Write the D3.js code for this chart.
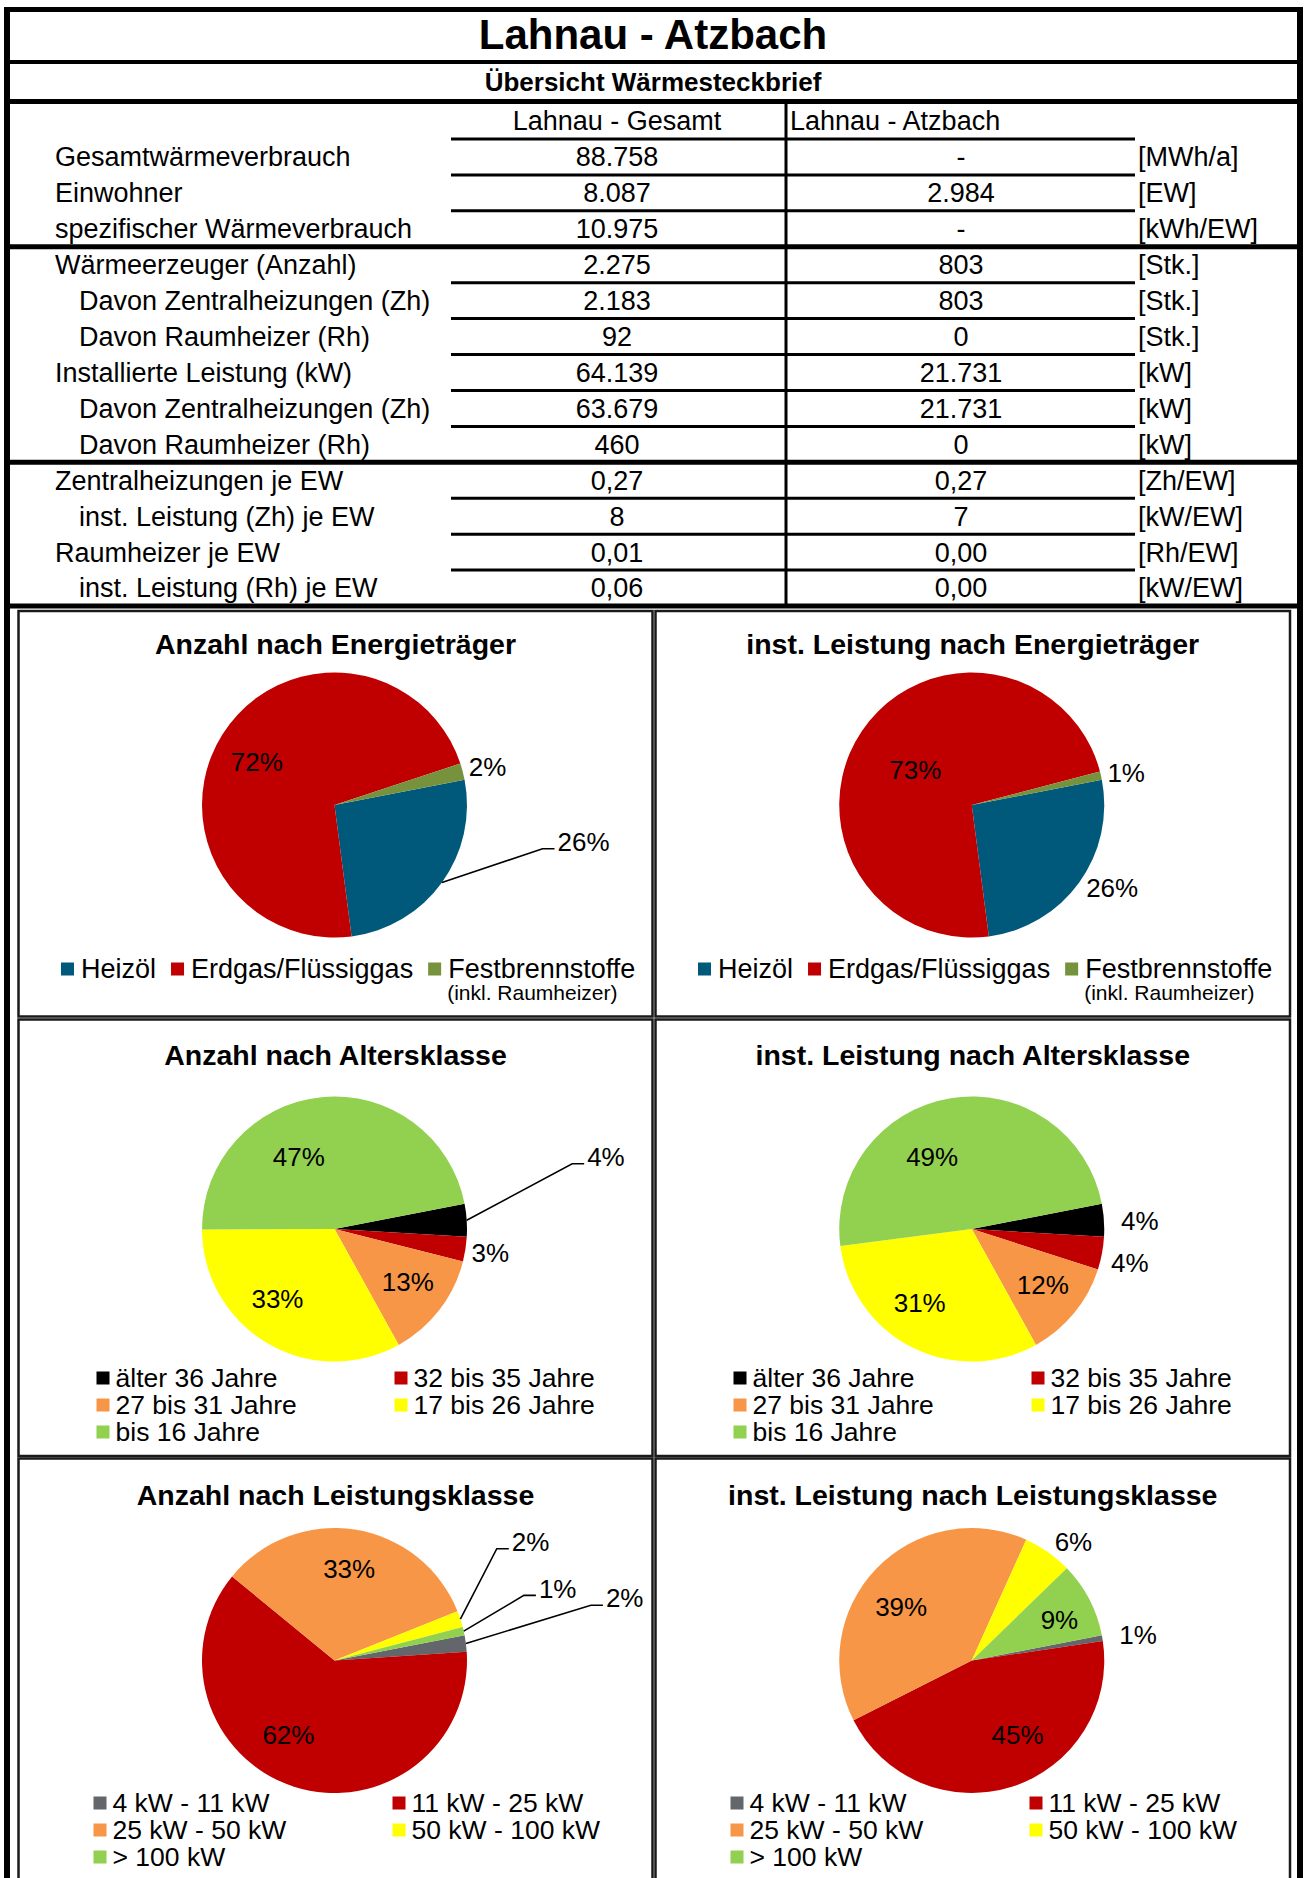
<!DOCTYPE html>
<html>
<head>
<meta charset="utf-8">
<script src="https://cdn.jsdelivr.net/npm/d3@7"></script>
<style>
  body { margin: 0; background: #fff; }
  svg { display: block; }
  text { font-family: "Liberation Sans", Arial, Helvetica, sans-serif; fill: #000; }
</style>
</head>
<body>
<svg width="1304" height="1878"></svg>
<script>

// Page texts
var pageTitle = 'Lahnau - Atzbach';
var subTitle = 'Übersicht Wärmesteckbrief';

// Table
var tableCols = ['Lahnau - Gesamt', 'Lahnau - Atzbach'];
var rowLabels = [
  'Gesamtwärmeverbrauch', 'Einwohner', 'spezifischer Wärmeverbrauch',
  'Wärmeerzeuger (Anzahl)', 'Davon Zentralheizungen (Zh)', 'Davon Raumheizer (Rh)',
  'Installierte Leistung (kW)', 'Davon Zentralheizungen (Zh)', 'Davon Raumheizer (Rh)',
  'Zentralheizungen je EW', 'inst. Leistung (Zh) je EW', 'Raumheizer je EW', 'inst. Leistung (Rh) je EW'
];
var rowIndent = [0, 0, 0, 0, 1, 1, 0, 1, 1, 0, 1, 0, 1];
var valGesamt = ['88.758', '8.087', '10.975', '2.275', '2.183', '92', '64.139', '63.679', '460', '0,27', '8', '0,01', '0,06'];
var valAtzbach = ['-', '2.984', '-', '803', '803', '0', '21.731', '21.731', '0', '0,27', '7', '0,00', '0,00'];
var units = ['[MWh/a]', '[EW]', '[kWh/EW]', '[Stk.]', '[Stk.]', '[Stk.]', '[kW]', '[kW]', '[kW]', '[Zh/EW]', '[kW/EW]', '[Rh/EW]', '[kW/EW]'];
var sectionStarts = [3, 9];

// Pie categories and shares (percent)
var energyCats = ['Heizöl', 'Erdgas/Flüssiggas', 'Festbrennstoffe'];
var energyNote = '(inkl. Raumheizer)';
var energyCount = [26, 72, 2];
var energyPower = [26, 73, 1];

var ageCats = ['älter 36 Jahre', '32 bis 35 Jahre', '27 bis 31 Jahre', '17 bis 26 Jahre', 'bis 16 Jahre'];
var ageCount = [4, 3, 13, 33, 47];
var agePower = [4, 4, 12, 31, 49];

var powerCats = ['4 kW - 11 kW', '11 kW - 25 kW', '25 kW - 50 kW', '50 kW - 100 kW', '> 100 kW'];
var powerCount = [2, 62, 33, 2, 1];
var powerPower = [0.7, 44.9, 39.2, 6.0, 9.2];

// Colours
var energyColor = d3.scaleOrdinal(energyCats, ['#00587A', '#C00000', '#76923C']);
var ageColor = d3.scaleOrdinal(ageCats, ['#000000', '#C00000', '#F79646', '#FFFF00', '#92D050']);
var powerColor = d3.scaleOrdinal(powerCats, ['#63666A', '#C00000', '#F79646', '#FFFF00', '#92D050']);

var svg = d3.select('svg');
var W = 1304, H = 1878;
var frameL = 7, frameR = 1300;

function hline(y, x0, x1, w) {
  svg.append('line').attr('x1', x0).attr('x2', x1).attr('y1', y).attr('y2', y)
    .attr('stroke', '#000').attr('stroke-width', w);
}

function label(g, x, y, str, size, anchor, bold) {
  return g.append('text')
    .attr('x', x).attr('y', y).attr('dy', '0.35em')
    .attr('font-size', size)
    .attr('text-anchor', anchor || 'start')
    .attr('font-weight', bold ? 'bold' : 'normal')
    .text(str);
}

// ---- Header + table ----
hline(9.5, 4, frameR + 3, 5);
hline(62, frameL, frameR, 4);
hline(101.5, frameL, frameR, 5);

label(svg, 653, 34, pageTitle, 42, 'middle', true);
label(svg, 653, 82, subTitle, 26, 'middle', true);

var colX = [617, 961];
var unitX = 1138;
label(svg, colX[0], 121, tableCols[0], 27, 'middle');
label(svg, 790, 121, tableCols[1], 27, 'start');

var rowY = d3.scaleLinear().domain([0, rowLabels.length]).range([139, 606]);
var rowH = rowY(1) - rowY(0);

rowLabels.forEach(function(d, i) {
  var top = rowY(i);
  if (sectionStarts.indexOf(i) >= 0) {
    hline(top, frameL, frameR, 5);
  } else {
    hline(top, 451, 1135, 3);
  }
  var cy = top + rowH / 2;
  label(svg, rowIndent[i] ? 79 : 55, cy, d, 27);
  label(svg, colX[0], cy, valGesamt[i], 27, 'middle');
  label(svg, colX[1], cy, valAtzbach[i], 27, 'middle');
  label(svg, unitX, cy, units[i], 27);
});
hline(rowY(rowLabels.length), frameL, frameR, 5);

svg.append('line').attr('x1', 786).attr('x2', 786)
  .attr('y1', 101.5).attr('y2', rowY(rowLabels.length))
  .attr('stroke', '#000').attr('stroke-width', 3);

// ---- Pie panels ----
var colsX = [[18.5, 652.5], [655.5, 1290]];
var rowTop = [611, 1019.5, 1458.5];
var rowBottom = [1016.5, 1456, 1900];
var titleOff = [33, 35.5, 36.5];
var pieOff = [194, 209.5, 202];
var legendOff = [358, 358.5, 344.5];
var legendCols = [null, [78, 376], [75, 374]];
var R = 132.5;
var startDeg = 79;
var DEG = Math.PI / 180;

// label layout per slice: [angle shift from slice middle (deg), radius factor, leader line]
var charts = [
  {title: 'Anzahl nach Energieträger', col: 0, row: 0, cats: energyCats, vals: energyCount, color: energyColor,
   labels: [[-27.4, 1.90, 1], [-3.2, 0.67, 0], [0.6, 1.19, 0]]},
  {title: 'inst. Leistung nach Energieträger', col: 1, row: 0, cats: energyCats, vals: energyPower, color: energyColor,
   labels: [[-5.3, 1.23, 0], [-2.4, 0.50, 0], [1.2, 1.19, 0]]},
  {title: 'Anzahl nach Altersklasse', col: 0, row: 1, cats: ageCats, vals: ageCount, color: ageColor,
   labels: [[-11.1, 2.12, 1], [0.1, 1.19, 0], [-2, 0.68, 0], [8.9, 0.68, 0], [-20.6, 0.61, 0]]},
  {title: 'inst. Leistung nach Altersklasse', col: 1, row: 1, cats: ageCats, vals: agePower, color: ageColor,
   labels: [[0.9, 1.27, 0], [1.6, 1.22, 0], [-1.4, 0.68, 0], [8.5, 0.68, 0], [-19.6, 0.62, 0]]},
  {title: 'Anzahl nach Leistungsklasse', col: 0, row: 2, cats: powerCats, vals: powerCount, color: powerColor,
   labels: [[-4.7, 2.24, 1], [14, 0.66, 0], [0.3, 0.70, 0], [-13, 1.73, 1], [-5.1, 1.77, 1]]},
  {title: 'inst. Leistung nach Leistungsklasse', col: 1, row: 2, cats: powerCats, vals: powerPower, color: powerColor,
   labels: [[1, 1.27, 0], [-13.9, 0.66, 0], [-6.4, 0.67, 0], [5.5, 1.18, 0], [2.6, 0.73, 0]]}
];

var pct = d3.format('.0%');

charts.forEach(function(c) {
  var x0 = colsX[c.col][0], x1 = colsX[c.col][1];
  var y0 = rowTop[c.row], y1 = rowBottom[c.row];
  var g = svg.append('g');

  g.append('rect').attr('x', x0).attr('y', y0).attr('width', x1 - x0).attr('height', y1 - y0)
    .attr('fill', 'none').attr('stroke', '#1a1a1a').attr('stroke-width', 2.5);

  var cx = (x0 + x1) / 2 - 1;
  label(g, (x0 + x1) / 2, y0 + titleOff[c.row], c.title, 28.5, 'middle', true);

  var data = c.cats.map(function(k, i) { return {k: k, v: c.vals[i]}; });
  var total = d3.sum(data, function(d) { return d.v; });
  var pie = d3.pie().sort(null).value(function(d) { return d.v; })
    .startAngle(startDeg * DEG).endAngle(startDeg * DEG + 2 * Math.PI);
  var arc = d3.arc().innerRadius(0).outerRadius(R);
  var arcs = pie(data);

  var pg = g.append('g').attr('transform', 'translate(' + cx + ',' + (y0 + pieOff[c.row]) + ')');
  pg.selectAll('path.slice').data(arcs).enter().append('path')
    .attr('class', 'slice')
    .attr('d', arc)
    .attr('fill', function(d) { return c.color(d.data.k); });

  arcs.forEach(function(a, i) {
    var lay = c.labels[i];
    var mid = (a.startAngle + a.endAngle) / 2;
    var ang = mid + lay[0] * DEG;
    var lx = Math.sin(ang) * R * lay[1], ly = -Math.cos(ang) * R * lay[1];
    var t = label(pg, lx, ly, pct(a.data.v / total), 26, 'middle');
    if (lay[2]) {
      var w = t.node().getComputedTextLength();
      var sx = lx - w / 2;
      var ex = Math.sin(mid) * R, ey = -Math.cos(mid) * R;
      pg.append('polyline')
        .attr('points', [[ex, ey], [sx - 15, ly + 7], [sx - 3, ly + 7]].map(function(p) { return p.join(','); }).join(' '))
        .attr('fill', 'none').attr('stroke', '#000').attr('stroke-width', 1.6);
    }
  });

  // legend
  var ly0 = y0 + legendOff[c.row];
  if (c.row === 0) {
    var lx = x0 + 42.5;
    c.cats.forEach(function(k, i) {
      g.append('rect').attr('x', lx).attr('y', ly0 - 6.5).attr('width', 13).attr('height', 13)
        .attr('fill', c.color(k));
      var t = label(g, lx + 20, ly0, k, 27);
      if (i === c.cats.length - 1) label(g, lx + 19, ly0 + 24, energyNote, 21);
      lx = lx + 20 + t.node().getComputedTextLength() + 15;
    });
  } else {
    c.cats.forEach(function(k, i) {
      var lx = x0 + legendCols[c.row][i % 2];
      var yy = ly0 + Math.floor(i / 2) * 27;
      g.append('rect').attr('x', lx).attr('y', yy - 6.5).attr('width', 13).attr('height', 13)
        .attr('fill', c.color(k));
      label(g, lx + 19, yy, k, 26.5);
    });
  }
});

// outer frame sides
svg.append('line').attr('x1', frameL).attr('x2', frameL).attr('y1', 7).attr('y2', H)
  .attr('stroke', '#000').attr('stroke-width', 6);
svg.append('line').attr('x1', frameR).attr('x2', frameR).attr('y1', 7).attr('y2', H)
  .attr('stroke', '#000').attr('stroke-width', 6);

</script>
</body>
</html>
